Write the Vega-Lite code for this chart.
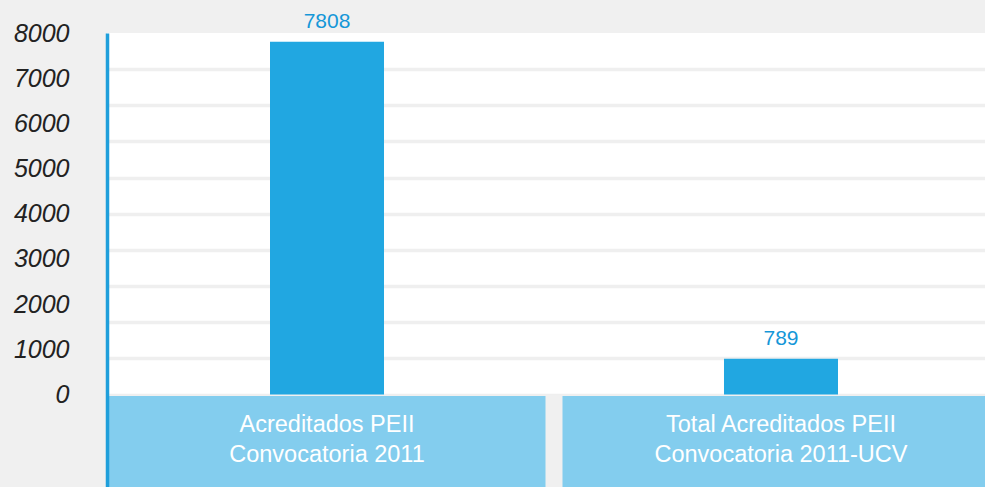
{
  "$schema": "https://vega.github.io/schema/vega-lite/v6.json",
  "width": 878,
  "height": 454,
  "autosize": "none",
  "padding": {"left": 107, "top": 33, "right": 0, "bottom": 0},
  "background": "#f0f0f0",
  "config": {
    "view": {"stroke": null, "fill": "#ffffff"},
    "font": "Liberation Sans"
  },
  "data": {
    "values": [
      {"cat": "Acreditados PEII\nConvocatoria 2011", "value": 7808},
      {"cat": "Total Acreditados PEII\nConvocatoria 2011-UCV", "value": 789}
    ]
  },
  "resolve": {"axis": {"y": "independent"}},
  "layer": [
    {
      "mark": {"type": "rect", "color": "#f0f0f0"},
      "encoding": {
        "y": {"datum": -2047, "type": "quantitative", "scale": {"domain": [-2047, 8000], "nice": false, "zero": false}, "axis": {"orient": "right", "values": [0, 800, 1600, 2400, 3200, 4000, 4800, 5600, 6400, 7200], "grid": true, "gridColor": "#efefef", "gridWidth": 3.5, "labels": false, "ticks": false, "domain": false, "title": null, "zindex": 0}},
        "y2": {"datum": 0}
      }
    },
    {
      "mark": {"type": "bar", "color": "#83cdee", "clip": true},
      "encoding": {
        "x": {"field": "cat", "type": "nominal", "sort": null, "axis": null, "scale": {"range": [1.5, 892.5], "paddingInner": 0.0374, "paddingOuter": 0}},
        "y": {"datum": -2047, "type": "quantitative", "axis": null},
        "y2": {"datum": -33}
      }
    },
    {
      "mark": {"type": "text", "color": "#ffffff", "fontSize": 23.5, "lineBreak": "\n", "lineHeight": 30, "baseline": "middle", "align": "center"},
      "encoding": {
        "x": {"field": "cat", "type": "nominal", "sort": null, "axis": null},
        "y": {"datum": -680, "type": "quantitative", "axis": null},
        "text": {"field": "cat"}
      }
    },
    {
      "mark": {"type": "bar", "color": "#21a7e1", "width": 114},
      "encoding": {
        "x": {"field": "cat", "type": "nominal", "sort": null, "axis": null},
        "y": {"field": "value", "type": "quantitative", "axis": {"orient": "left", "values": [0, 1000, 2000, 3000, 4000, 5000, 6000, 7000, 8000], "format": "d", "grid": false, "ticks": false, "domainColor": "#1f9fdb", "domainWidth": 3.5, "labelFont": "Liberation Sans", "labelFontStyle": "italic", "labelFontSize": 25, "labelColor": "#222222", "labelPadding": 38, "labelFlush": false, "title": null, "zindex": 1}},
        "y2": {"datum": 0}
      }
    },
    {
      "mark": {"type": "text", "color": "#1597d8", "fontSize": 21, "baseline": "alphabetic", "dy": -14},
      "encoding": {
        "x": {"field": "cat", "type": "nominal", "sort": null, "axis": null},
        "y": {"field": "value", "type": "quantitative", "axis": null},
        "text": {"field": "value", "type": "quantitative", "format": "d"}
      }
    }
  ]
}
